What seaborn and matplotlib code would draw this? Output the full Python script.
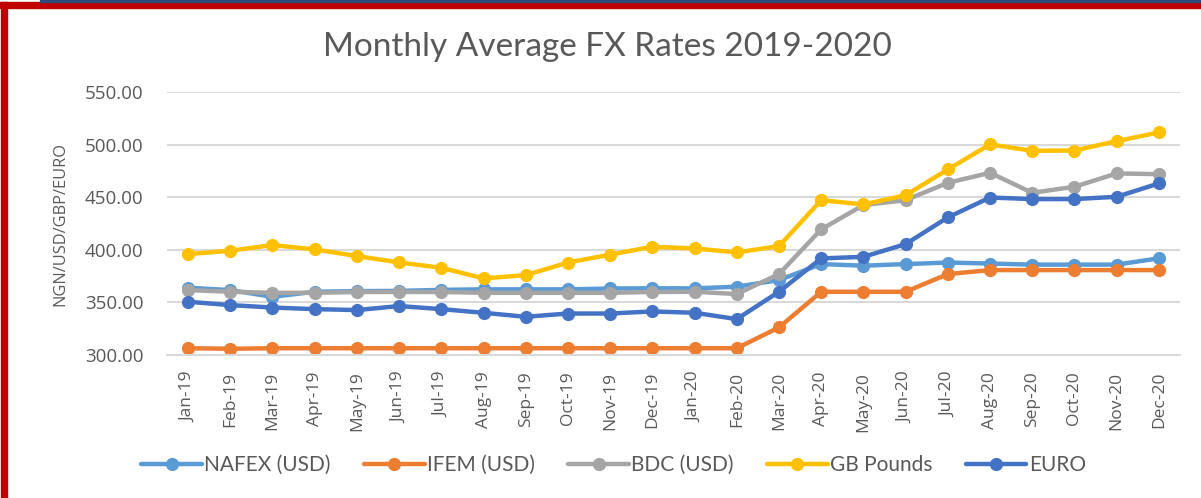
import pandas as pd
import numpy as np
import matplotlib
matplotlib.use('Agg')
import matplotlib.pyplot as plt
from matplotlib.lines import Line2D
from matplotlib.patches import Rectangle
import seaborn as sns

months = ['Jan-19', 'Feb-19', 'Mar-19', 'Apr-19', 'May-19', 'Jun-19', 'Jul-19', 'Aug-19',
          'Sep-19', 'Oct-19', 'Nov-19', 'Dec-19', 'Jan-20', 'Feb-20', 'Mar-20', 'Apr-20',
          'May-20', 'Jun-20', 'Jul-20', 'Aug-20', 'Sep-20', 'Oct-20', 'Nov-20', 'Dec-20']

nafex = [364.0, 361.8, 355.4, 360.2, 360.8, 361.0, 362.0, 362.5, 362.5, 362.5, 363.3, 363.5,
         363.4, 365.0, 371.3, 386.5, 385.0, 386.5, 388.0, 387.0, 386.0, 386.0, 386.0, 392.0]
ifem = [306.5, 306.0, 306.5, 306.5, 306.5, 306.5, 306.5, 306.5, 306.5, 306.5, 306.5, 306.5,
        306.5, 306.5, 326.3, 360.2, 360.2, 360.2, 377.0, 380.8, 380.8, 380.8, 380.8, 380.8]
bdc = [361.8, 360.2, 359.2, 359.2, 360.0, 360.0, 360.0, 359.2, 359.2, 359.2, 359.2, 360.0,
       360.2, 358.0, 377.0, 419.5, 442.6, 447.3, 463.8, 473.3, 454.3, 460.0, 472.7, 472.0]
gbp = [396.0, 399.2, 404.6, 400.5, 394.1, 388.1, 383.0, 372.9, 376.0, 388.0, 395.5, 403.0,
       401.4, 397.6, 403.6, 447.3, 443.2, 452.0, 476.5, 500.3, 494.2, 494.5, 503.4, 511.7]
euro = [350.7, 347.5, 345.2, 343.7, 342.8, 346.6, 343.7, 340.2, 336.4, 339.5, 339.5, 341.5,
        340.2, 334.2, 360.2, 391.9, 393.4, 405.5, 430.9, 449.8, 448.3, 448.3, 450.5, 463.2]

series = ['NAFEX (USD)', 'IFEM (USD)', 'BDC (USD)', 'GB Pounds', 'EURO']
colors = ['#5B9BD5', '#ED7D31', '#A5A5A5', '#FFC000', '#4472C4']

df = pd.DataFrame({'month': months, 'NAFEX (USD)': nafex, 'IFEM (USD)': ifem,
                   'BDC (USD)': bdc, 'GB Pounds': gbp, 'EURO': euro})
df['pos'] = np.arange(len(months))
long = df.melt(id_vars=['month', 'pos'], value_vars=series, var_name='series', value_name='rate')

sns.set_style('white')
plt.rcParams['font.family'] = ['Open Sans', 'DejaVu Sans']

fig = plt.figure(figsize=(12.01, 4.98), dpi=100)
ax = fig.add_axes([0.139, 0.287, 0.8435, 0.528])

sns.lineplot(data=long, x='pos', y='rate', hue='series', hue_order=series,
             palette=colors, marker='o', markersize=9.5, markeredgewidth=0,
             linewidth=3.2, sort=False, legend=False, ax=ax, clip_on=False)

ax.set_xlim(-0.5, len(months) - 0.5)
ax.set_ylim(300, 550)
yt = [300, 350, 400, 450, 500, 550]
ax.set_yticks(yt)
ax.set_yticklabels(['%.2f' % v for v in yt])
ax.set_xticks(df['pos'])
ax.set_xticklabels(months, rotation=90)
ax.set_xticks(np.arange(-0.5, len(months)), minor=True)
ax.tick_params(axis='x', which='major', length=0, pad=12, labelsize=12.5, labelcolor='#595959')
ax.tick_params(axis='x', which='minor', length=6, width=1.3, color='#D9D9D9', direction='out')
ax.tick_params(axis='y', length=0, pad=17, labelsize=13.5, labelcolor='#595959')

ax.grid(axis='y', color='#D9D9D9', linewidth=1.5)
ax.set_axisbelow(True)
for side in ['top', 'right', 'left']:
    ax.spines[side].set_visible(False)
ax.spines['bottom'].set_color('#D9D9D9')
ax.spines['bottom'].set_linewidth(1.5)

ax.set_xlabel('')
ax.set_ylabel('NGN/USD/GBP/EURO', fontsize=11.8, color='#595959', labelpad=12)

fig.text(0.506, 0.905, 'Monthly Average FX Rates 2019-2020', ha='center', va='center',
         fontsize=24, color='#595959', family=['Lato', 'DejaVu Sans'])

handles = [Line2D([0], [0], color=c, lw=3.2, marker='o', markersize=9.5, markeredgewidth=0)
           for c in colors]
fig.legend(handles, series, loc='center', bbox_to_anchor=(0.511, 0.066), ncol=5,
           frameon=False, handlelength=2.9, handletextpad=0.12, columnspacing=1.6,
           prop={'family': ['Lato', 'DejaVu Sans'], 'size': 15}, labelcolor='#595959')

# red frame like the screenshot
fig.patches.append(Rectangle((0, 1 - 8 / 498), 1, 6 / 498, transform=fig.transFigure,
                             color='#C00000', zorder=10))
fig.patches.append(Rectangle((1 / 1201, 0), 6 / 1201, 1 - 2 / 498, transform=fig.transFigure,
                             color='#C00000', zorder=10))
fig.patches.append(Rectangle((40 / 1201, 1 - 2 / 498), 1, 2 / 498, transform=fig.transFigure,
                             color='#2E4A7A', zorder=10))

fig.savefig('out.png', dpi=100)
